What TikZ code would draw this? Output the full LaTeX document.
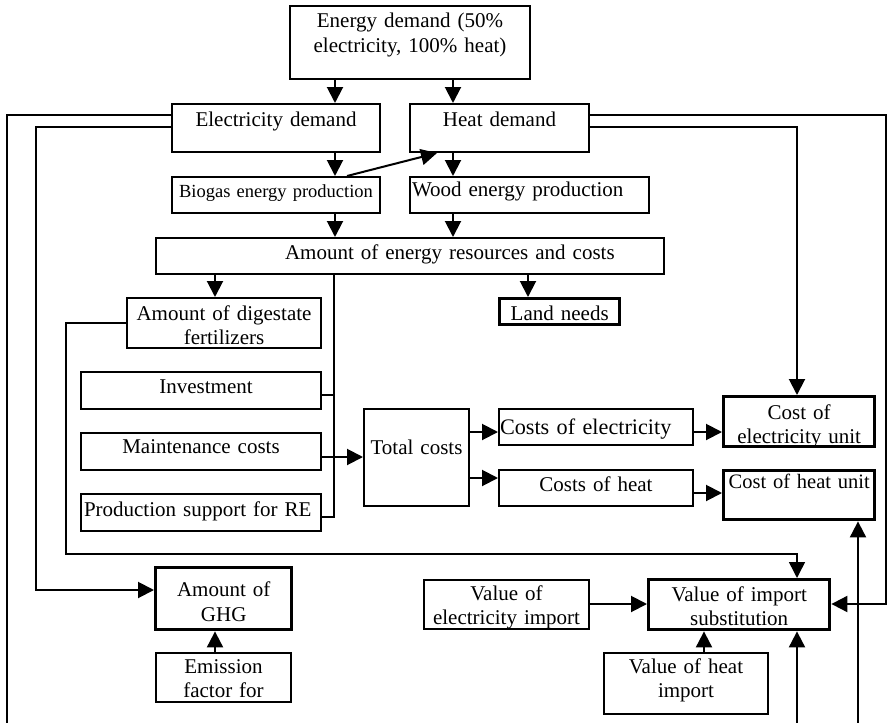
\documentclass[tikz,border=0pt]{standalone}
\usepackage{fontspec}
\setmainfont{Liberation Serif}
\usetikzlibrary{arrows.meta}
\begin{document}
\begin{tikzpicture}[x=1pt,y=-1pt,
  bx/.style={draw, line width=2pt, anchor=north west, inner sep=0pt, align=center,
    font=\fontsize{21pt}{24pt}\selectfont},
  heavy/.style={line width=3.4pt},
  link/.style={line width=2pt},
  thinlink/.style={line width=1.5pt},
  tip/.style={-{Triangle[length=16pt,width=16pt]}},
  arr/.style={link, tip}]
\useasboundingbox (0,0) rectangle (887,723);

% boxes: north-west corner, width, first baseline (text height) and rest (text depth)
\node[bx, text width=240pt, text height=21.5pt, text depth=51.5pt,
  font=\fontsize{21pt}{24.5pt}\selectfont] (edem) at (289,5)
  {Energy demand (50\%\\electricity, 100\% heat)};
\node[bx, text width=208pt, text height=22pt, text depth=26pt] (elec) at (171,103) {Electricity demand};
\node[bx, text width=179pt, text height=22pt, text depth=26pt] (heat) at (409,103) {Heat demand};
\node[bx, text width=208pt, text height=20pt, text depth=16pt,
  font=\fontsize{18.5pt}{22pt}\selectfont] (bio) at (171,176) {Biogas energy production};
\node[bx, text width=239pt, text height=19.6pt, text depth=16.4pt, align=left] (wood) at (409,176)
  {\hspace*{2pt}Wood energy production};
\node[bx, text width=508pt, text height=21.3pt, text depth=14.7pt, align=left] (amt) at (155,237)
  {\hspace*{129pt}Amount of energy resources and costs};
\node[bx, text width=194pt, text height=22pt, text depth=28pt] (dig) at (126,297)
  {Amount of digestate\\fertilizers};
\node[bx, heavy, text width=120pt, text height=22pt, text depth=4pt] (land) at (498,297) {Land needs};
\node[bx, text width=240pt, text height=21pt, text depth=16pt] (inv) at (80,371) {\hspace*{10pt}Investment};
\node[bx, text width=240pt, text height=20.7pt, text depth=16.3pt] (mnt) at (80,432) {Maintenance costs};
\node[bx, text width=240pt, text height=22pt, text depth=15pt, align=left] (prs) at (80,493)
  {\hspace*{3pt}Production support for RE};
\node[bx, text width=105pt, text height=45pt, text depth=52pt] (tot) at (363,408) {Total costs};
\node[bx, text width=194pt, text height=25pt, text depth=11pt, align=left,
  font=\fontsize{22.2pt}{26pt}\selectfont] (coe) at (498,408) {\hspace*{1pt}Costs of electricity};
\node[bx, text width=194pt, text height=21pt, text depth=15pt] (coh) at (498,469) {Costs of heat};
\node[bx, heavy, text width=151pt, text height=22.3pt, text depth=27.7pt] (ceu) at (722,395)
  {Cost of\\electricity unit};
\node[bx, heavy, text width=151pt, text height=18pt, text depth=31pt,
  font=\fontsize{20.5pt}{24pt}\selectfont] (chu) at (722,469) {Cost of heat unit};
\node[bx, heavy, text width=136pt, text height=29pt, text depth=33pt,
  font=\fontsize{21pt}{25pt}\selectfont] (ghg) at (154,566) {Amount of\\GHG};
\node[bx, text width=135pt, text height=20.7pt, text depth=28.3pt] (emi) at (155,652)
  {Emission\\factor for};
\node[bx, text width=165pt, text height=20.3pt, text depth=28.7pt] (vei) at (423,579)
  {Value of\\electricity import};
\node[bx, heavy, text width=181pt, text height=22pt, text depth=28pt] (vis) at (647,578)
  {Value of import\\substitution};
\node[bx, text width=164pt, text height=20.7pt, text depth=40.3pt] (vhi) at (603,652)
  {Value of heat\\import};

% lines that run on below the lower edge
\coordinate (offA) at (7,723);
\coordinate (offB) at (797,723);
\coordinate (offC) at (858,723);

% demand split
\draw[arr] (edem.south -| 335,0) -- (elec.north -| 335,0);
\draw[arr] (edem.south -| 453,0) -- (heat.north -| 453,0);
\draw[link] (elec.west |- 0,115) -| (offA);
\draw[arr] (elec.west |- 0,127) -| (36,590) -- (ghg.west |- 0,590);
\draw[arr] (heat.east |- 0,115) -| (886,604) -- (vis.east |- 0,604);
\draw[arr] (heat.east |- 0,127) -| (ceu.north -| 797,0);

% production
\draw[arr] (elec.south -| 335,0) -- (bio.north -| 335,0);
\draw[arr] (heat.south -| 453,0) -- (wood.north -| 453,0);
\draw[arr] (bio.north -| 347,0) -- (heat.south -| 437,0);
\draw[arr] (bio.south -| 335,0) -- (amt.north -| 335,0);
\draw[arr] (wood.south -| 453,0) -- (amt.north -| 453,0);
\draw[arr] (amt.south -| 215,0) -- (dig.north -| 215,0);
\draw[arr] (amt.south -| 528,0) -- (land.north -| 528,0);

% cost collection
\draw[link] (amt.south -| 334,0) |- (prs.east |- 0,517);
\draw[link] (inv.east |- 0,395) -- (334,395);
\draw[arr] (mnt.east |- 0,457) -- (tot.west |- 0,457);
\draw[arr] (tot.east |- 0,432) -- (coe.west |- 0,432);
\draw[arr] (tot.east |- 0,478) -- (coh.west |- 0,478);
\draw[arr] (coe.east |- 0,432) -- (ceu.west |- 0,432);
\draw[arr] (coh.east |- 0,493) -- (chu.west |- 0,493);
\draw[arr] (offC) -- (chu.south -| offC);

% digestate and import values
\draw[thinlink, tip] (dig.west |- 0,323) -| (66,554) -| (vis.north -| 797,0);
\draw[arr] (vei.east |- 0,604) -- (vis.west |- 0,604);
\draw[arr] (vhi.north -| 704,0) -- (vis.south -| 704,0);
\draw[arr] (offB) -- (vis.south -| offB);
\draw[arr] (emi.north -| 215,0) -- (ghg.south -| 215,0);
\end{tikzpicture}
\end{document}
